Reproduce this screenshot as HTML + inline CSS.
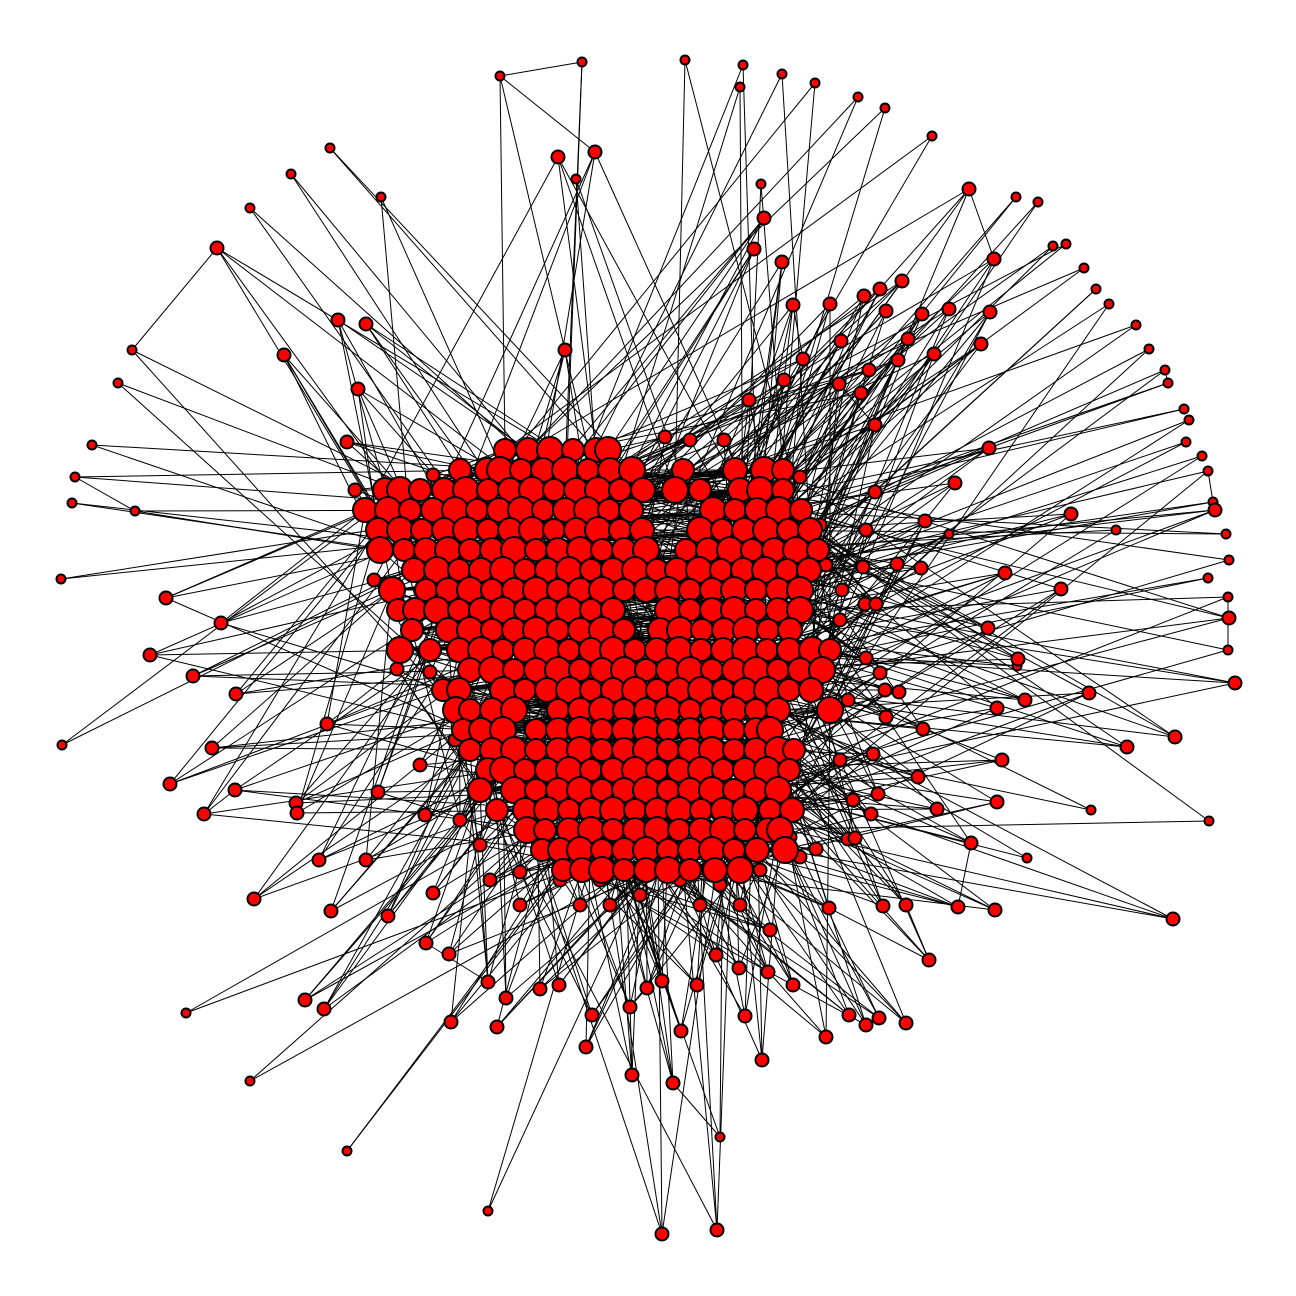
<!DOCTYPE html>
<html><head><meta charset="utf-8"><title>Network graph</title>
<style>html,body{margin:0;padding:0;background:#fff;}svg{display:block;}</style>
</head><body>
<svg id="chart" width="1296" height="1296" viewBox="0 0 1296 1296" xmlns="http://www.w3.org/2000/svg">
<rect width="1296" height="1296" fill="#fff"/>
<g id="edges"></g>
<g id="nodes"></g>
</svg>
<script>
// Peripheral nodes: layout coordinates [x, y]
const outerNodes = [[500,76],[582,62],[685,60],[743,65],[782,74],[815,83],[858,97],[885,108],[932,136],[740,87],[558,157],[595,152],[576,179],[761,184],[764,218],[754,249],[782,262],[330,148],[291,174],[250,208],[381,197],[217,248],[132,350],[118,383],[284,355],[338,320],[366,324],[358,389],[565,350],[347,442],[92,445],[75,477],[72,503],[135,511],[61,579],[166,598],[221,623],[150,655],[193,676],[236,694],[62,745],[212,748],[170,784],[235,790],[204,814],[296,803],[297,813],[327,724],[378,792],[319,860],[366,860],[254,899],[331,911],[388,916],[433,893],[426,943],[449,954],[305,1000],[324,1009],[186,1013],[250,1081],[347,1151],[488,1211],[662,1234],[717,1230],[720,1137],[673,1083],[632,1075],[586,1047],[592,1015],[497,1027],[451,1022],[506,998],[488,982],[540,989],[559,985],[630,1007],[647,988],[662,981],[681,1031],[697,985],[745,1016],[762,1060],[826,1037],[849,1015],[866,1025],[879,1018],[906,1023],[929,960],[793,985],[768,972],[739,968],[716,955],[1173,919],[1209,821],[1091,810],[1027,858],[995,910],[958,907],[971,843],[997,802],[937,809],[1002,760],[1127,747],[1175,737],[1089,693],[1025,700],[997,708],[923,729],[1235,683],[1228,650],[1017,666],[1018,659],[988,628],[1061,589],[1005,573],[1229,618],[1228,597],[1208,578],[1229,560],[1226,534],[1213,502],[1116,530],[1071,514],[949,534],[925,521],[1215,510],[1208,471],[1202,456],[1186,442],[1189,420],[1184,409],[1168,383],[1165,370],[1149,349],[1136,325],[1109,304],[1096,289],[1084,268],[1066,244],[1053,246],[1038,202],[1016,197],[969,189],[994,259],[990,312],[981,344],[949,309],[934,354],[922,314],[902,281],[880,289],[864,296],[830,304],[793,305],[886,311],[908,339],[898,360],[869,370],[861,393],[839,384],[841,341],[803,359],[784,380],[749,400],[875,425],[955,483],[989,448],[875,492],[866,530],[863,567],[865,604],[876,604],[842,590],[826,565],[897,564],[921,568],[866,658],[880,673],[885,690],[899,692],[886,717],[873,754],[918,777],[878,794],[853,800],[871,814],[848,839],[855,838],[816,849],[829,908],[883,906],[906,905],[800,857],[790,837],[782,817],[355,490],[374,580],[397,669],[430,672],[410,635],[460,480],[433,475],[665,437],[690,440],[724,440],[765,465],[800,477],[820,525],[840,620],[848,700],[840,760],[540,845],[520,872],[560,880],[600,880],[640,895],[680,880],[720,885],[760,870],[480,845],[460,820],[425,815],[420,765],[455,740],[490,880],[520,905],[580,905],[610,905],[700,905],[740,905],[770,930]];
// Outer node size class (1 = small, 2 = medium)
const outerSize = [1,1,1,1,1,1,1,1,1,1,2,2,1,1,2,2,2,1,1,1,1,2,1,1,2,2,2,2,2,2,1,1,1,1,1,2,2,2,2,2,1,2,2,2,2,2,2,2,2,2,2,2,2,2,2,2,2,2,2,1,1,1,1,2,2,1,2,2,2,2,2,2,2,2,2,2,2,2,2,2,2,2,2,2,2,2,2,2,2,2,2,2,2,2,1,1,1,2,2,2,2,2,2,2,2,2,2,2,2,2,1,1,2,2,2,2,2,1,1,1,1,1,1,2,1,2,2,1,1,1,1,1,1,1,1,1,1,1,1,1,1,1,1,2,2,2,2,2,2,2,2,2,2,2,2,2,2,2,2,2,2,2,2,2,2,2,2,2,2,2,2,2,2,2,2,2,2,2,2,2,2,2,2,2,2,2,2,2,2,2,2,2,2,2,2,2,2,2,2,2,2,2,2,2,2,2,2,2,2,2,2,2,2,2,2,2,2,2,2,2,2,2,2,2,2,2,2,2,2,2,2,2,2,2,2,2,2];
// Core cluster rows: y and x positions of nodes
const coreRowY = [450,470,490,510,530,550,570,590,610,630,650,670,690,710,730,750,770,790,810,830,850,870];
const coreRowX = [
[505,528,550,573,596,608],
[460,487,500,521,543,565,588,610,632,683,735,764,783],
[385,400,420,444,466,488,510,532,554,576,598,620,643,675,700,740,760,783],
[365,388,410,433,455,477,499,521,543,565,587,609,631,713,735,757,779,801],
[378,400,422,444,466,488,510,532,554,576,598,620,642,700,722,744,766,788,810],
[380,404,426,448,470,492,514,536,558,580,602,624,646,686,708,730,752,774,796,818],
[414,437,459,481,503,525,547,569,591,613,635,657,677,699,721,743,765,787,809],
[392,426,448,470,492,514,536,558,580,602,624,646,668,690,712,734,756,778,800],
[398,415,437,459,481,503,525,547,569,591,613,668,690,712,734,756,778,800],
[412,448,470,492,514,536,558,580,602,624,660,680,702,724,746,768,790],
[400,430,459,481,503,525,547,569,591,613,635,657,679,701,723,745,767,789,812,830],
[470,492,514,536,558,580,602,624,646,668,690,712,734,756,778,800,822],
[443,459,503,525,547,569,591,613,635,657,679,701,723,745,767,789,811],
[456,470,492,514,558,580,602,624,646,668,690,712,734,756,778,830],
[463,481,503,536,558,580,602,624,646,668,690,712,734,756,770],
[470,492,514,536,558,580,602,624,646,668,690,712,734,756,778,794],
[488,503,525,547,569,591,613,635,657,679,701,723,745,767,789],
[480,514,536,558,580,602,624,646,668,690,712,734,756,778],
[497,525,547,569,591,613,635,657,679,701,723,745,770,792],
[527,545,569,591,613,635,657,679,701,723,745,768,780],
[542,560,580,602,624,646,668,690,712,734,757,785],
[563,582,602,624,646,668,690,715,740]
];

const W = 1296, H = 1296;
const xScale = v => v * W / 1296;
const yScale = v => v * H / 1296;
const NS = 'http://www.w3.org/2000/svg';
const eg = document.getElementById('edges');
const ng = document.getElementById('nodes');

const core = [];
coreRowY.forEach((y, r) => coreRowX[r].forEach(x => core.push([x, y])));
const N = core.length;

function line(a, b) {
  const l = document.createElementNS(NS, 'line');
  l.setAttribute('x1', xScale(a[0])); l.setAttribute('y1', yScale(a[1]));
  l.setAttribute('x2', xScale(b[0])); l.setAttribute('y2', yScale(b[1]));
  l.setAttribute('stroke', '#000'); l.setAttribute('stroke-width', '1');
  
  
  eg.appendChild(l);
}
function d2(a, b) { const dx = a[0] - b[0], dy = a[1] - b[1]; return dx * dx + dy * dy; }

// edges: outer -> core nodes chosen among the nearest ones
outerNodes.forEach((p, i) => {
  const order = core.map((c, j) => j).sort((a, b) => d2(p, core[a]) - d2(p, core[b]));
  const k = outerSize[i] === 1 ? 2 : 4;
  for (let j = 0; j < k; j++) line(p, core[order[(i * 7 + j * 23) % 90]]);
});
// a few outer-outer links
for (let i = 0; i + 1 < outerNodes.length; i += 11) {
  const p = outerNodes[i];
  const order = outerNodes.map((c, j) => j).filter(j => j !== i).sort((a, b) => d2(p, outerNodes[a]) - d2(p, outerNodes[b]));
  line(p, outerNodes[order[i % 4]]);
}
// core internal edges (short-range)
core.forEach((p, i) => {
  [3, 9, 21, 40].forEach(o => line(p, core[(i + o) % N]));
});

function circle(p, r, name) {
  const c = document.createElementNS(NS, 'circle');
  c.setAttribute('cx', xScale(p[0])); c.setAttribute('cy', yScale(p[1]));
  c.setAttribute('r', r);
  c.setAttribute('fill', '#ff0000'); c.setAttribute('stroke', '#000'); c.setAttribute('stroke-width', '2');
  
  
  ng.appendChild(c);
}
outerNodes.forEach((p, i) => circle(p, outerSize[i] === 1 ? 4.5 : 6.5, 'outer-node'));
core.forEach((p, i) => circle(p, 11 + (i % 3), 'core-node'));
</script>
</body></html>
